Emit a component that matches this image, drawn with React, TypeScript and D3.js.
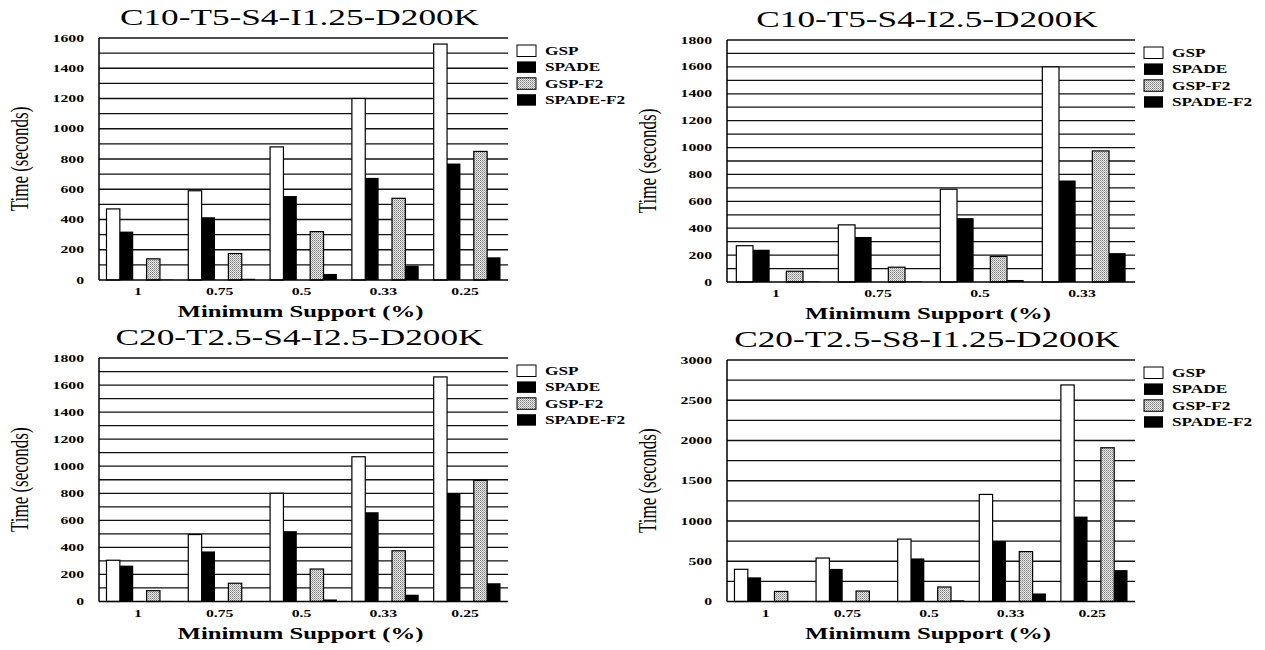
import React from 'react';
import * as d3 from 'd3';

// minimum support levels (x categories)
const supportsFive = ['1', '0.75', '0.5', '0.33', '0.25'];
const supportsFour = ['1', '0.75', '0.5', '0.33'];
const seriesNames = ['GSP', 'SPADE', 'GSP-F2', 'SPADE-F2'];

// time in seconds, one row per series (GSP, SPADE, GSP-F2, SPADE-F2)
const c10t5s4i125 = [
  [470, 590, 880, 1200, 1560],
  [320, 415, 555, 675, 770],
  [140, 175, 320, 540, 850],
  [2, 8, 40, 95, 150],
];
const c10t5s4i25 = [
  [270, 425, 690, 1600],
  [240, 335, 475, 755],
  [80, 110, 190, 975],
  [4, 4, 15, 215],
];
const c20t25s4i25 = [
  [305, 495, 800, 1070, 1660],
  [265, 370, 520, 660, 800],
  [80, 135, 240, 375, 895],
  [4, 3, 15, 50, 135],
];
const c20t25s8i125 = [
  [400, 540, 775, 1330, 2690],
  [300, 405, 535, 750, 1055],
  [125, 130, 180, 620, 1910],
  [4, 3, 15, 100, 390],
];

const panels = [
  { title: 'C10-T5-S4-I1.25-D200K', cats: supportsFive, values: c10t5s4i125, yMax: 1600, labelStep: 200, gridStep: 100, left: 99, right: 508, top: 38, bottom: 280 },
  { title: 'C10-T5-S4-I2.5-D200K', cats: supportsFour, values: c10t5s4i25, yMax: 1800, labelStep: 200, gridStep: 100, left: 727, right: 1135, top: 40, bottom: 282 },
  { title: 'C20-T2.5-S4-I2.5-D200K', cats: supportsFive, values: c20t25s4i25, yMax: 1800, labelStep: 200, gridStep: 100, left: 99, right: 508, top: 358, bottom: 601.5 },
  { title: 'C20-T2.5-S8-I1.25-D200K', cats: supportsFive, values: c20t25s8i125, yMax: 3000, labelStep: 500, gridStep: 250, left: 727, right: 1135, top: 360, bottom: 601.5 },
];

const slots = [0, 1, 3, 4]; // third slot in each group stays empty
const fills = ['#ffffff', '#000000', 'url(#stipple)', '#000000'];
const stroked = [true, false, true, false];
const SX = 1.5; // the scanned figure is stretched horizontally
const FONT = "'Liberation Serif', 'Times New Roman', serif";

function SText({ x, y, size, weight = 'normal', anchor = 'start', rotate = false, children }: any) {
  return (
    <text
      transform={`translate(${x},${y}) scale(${SX},1)${rotate ? ' rotate(-90)' : ''}`}
      fontSize={size}
      fontWeight={weight}
      fontFamily={FONT}
      textAnchor={anchor}
      fill="#000"
    >
      {children}
    </text>
  );
}

function Panel({ p }: any) {
  const x0 = d3.scaleBand().domain(p.cats).range([p.left, p.right]);
  const x1 = d3.scaleBand<number>().domain(d3.range(5)).range([0, x0.bandwidth()]).paddingOuter(0.56);
  const y = d3.scaleLinear().domain([0, p.yMax]).range([p.bottom, p.top]);
  const grid = d3.range(p.gridStep, p.yMax + 1, p.gridStep);
  const ticks = d3.range(0, p.yMax + 1, p.labelStep);
  const cx = (p.left + p.right) / 2;

  return (
    <g>
      <SText x={cx - 4} y={p.top - 13} size={23.5} anchor="middle">{p.title}</SText>

      {grid.map((v: number) => (
        <line key={v} x1={p.left} x2={p.right} y1={y(v)} y2={y(v)} stroke="#111" strokeWidth={1.3} />
      ))}

      {p.values.map((row: number[], s: number) =>
        row.map((v, i) => (
          <rect
            key={`${s}-${i}`}
            x={(x0(p.cats[i]) as number) + (x1(slots[s]) as number)}
            y={y(v)}
            width={x1.bandwidth()}
            height={p.bottom - y(v)}
            fill={fills[s]}
            stroke={stroked[s] ? '#000' : 'none'}
            strokeWidth={1.2}
          />
        ))
      )}

      <line x1={p.left} x2={p.left} y1={p.top} y2={p.bottom} stroke="#000" strokeWidth={1.5} />
      <line x1={p.left} x2={p.right} y1={p.bottom} y2={p.bottom} stroke="#000" strokeWidth={1.6} />

      {ticks.map((v: number) => (
        <SText key={v} x={p.left - 15} y={y(v) + 3.6} size={10.5} weight="bold" anchor="end">{v}</SText>
      ))}

      {p.cats.map((c: string) => (
        <SText key={c} x={(x0(c) as number) + x0.bandwidth() / 2 - 2} y={p.bottom + 15} size={10.5} weight="bold" anchor="middle">{c}</SText>
      ))}

      <SText x={cx - 3} y={p.bottom + 37} size={16.5} weight="bold" anchor="middle">Minimum Support (%)</SText>
      <SText x={p.left - 71} y={(p.top + p.bottom) / 2} size={17} anchor="middle" rotate>Time (seconds)</SText>

      {seriesNames.map((name, s) => (
        <g key={name}>
          <rect
            x={p.right + 9}
            y={p.top + 7 + s * 16.4}
            width={19}
            height={11.5}
            fill={fills[s]}
            stroke={stroked[s] ? '#000' : 'none'}
            strokeWidth={1}
          />
          <SText x={p.right + 37} y={p.top + 17 + s * 16.4} size={11.5} weight="bold">{name}</SText>
        </g>
      ))}
    </g>
  );
}

export default function App() {
  return (
    <svg width={1265} height={650} style={{ position: 'absolute', left: 0, top: 0, background: '#fff' }}>
      <defs>
        <pattern id="stipple" width={2} height={2} patternUnits="userSpaceOnUse">
          <rect width={2} height={2} fill="#ececec" />
          <rect x={0} y={0} width={1} height={1} fill="#777" />
          <rect x={1} y={1} width={1} height={1} fill="#aaa" />
        </pattern>
      </defs>
      <rect width={1265} height={650} fill="#fff" />
      {panels.map((p) => (
        <Panel key={p.title} p={p} />
      ))}
    </svg>
  );
}
